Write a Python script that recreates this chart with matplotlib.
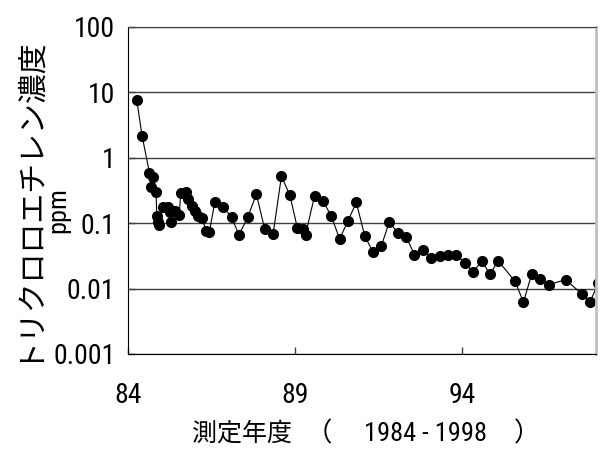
import matplotlib
matplotlib.use("Agg")
import matplotlib.pyplot as plt
from matplotlib import font_manager

names = {f.name for f in font_manager.fontManager.ttflist}
latin = 'Liberation Sans'
for cand in ['Liberation Sans Narrow', 'Arial Narrow', 'Roboto Condensed',
             'Pragati Narrow', 'PT Sans Narrow', 'Archivo Narrow']:
    if cand in names:
        latin = cand
        break

fam = [latin, 'Noto Sans CJK JP', 'DejaVu Sans']
jp = ['Noto Sans CJK JP', latin, 'DejaVu Sans']

years = [84.26, 84.42, 84.64, 84.74, 84.68, 84.84, 84.86, 84.90, 84.93, 85.05,
         85.19, 85.25, 85.30, 85.40, 85.53, 85.58, 85.75, 85.80, 85.90, 86.00,
         86.10, 86.22, 86.33, 86.43, 86.60, 86.84, 87.10, 87.32, 87.58, 87.84,
         88.09, 88.34, 88.59, 88.84, 89.07, 89.25, 89.31, 89.58, 89.83, 90.08,
         90.33, 90.58, 90.83, 91.08, 91.33, 91.58, 91.82, 92.07, 92.32, 92.57,
         92.81, 93.07, 93.32, 93.57, 93.82, 94.07, 94.33, 94.58, 94.83, 95.07,
         95.58, 95.83, 96.08, 96.33, 96.58, 97.09, 97.57, 97.82, 98.07]
conc = [7.66, 2.17, 0.59, 0.51, 0.35, 0.30, 0.129, 0.103, 0.094, 0.177,
        0.173, 0.146, 0.105, 0.154, 0.132, 0.286, 0.293, 0.237, 0.183, 0.151,
        0.126, 0.118, 0.076, 0.072, 0.211, 0.177, 0.122, 0.066, 0.122, 0.276,
        0.081, 0.068, 0.52, 0.267, 0.083, 0.081, 0.066, 0.26, 0.218, 0.129,
        0.057, 0.108, 0.206, 0.064, 0.0359, 0.045, 0.105, 0.070, 0.062, 0.0327,
        0.0389, 0.029, 0.0312, 0.033, 0.033, 0.0247, 0.0178, 0.0267, 0.0164, 0.0267,
        0.0128, 0.0062, 0.0168, 0.0141, 0.0114, 0.0137, 0.0083, 0.0062, 0.0122]

xticks = [84, 89, 94]
xtick_labels = ['84', '89', '94']
yticks = [0.001, 0.01, 0.1, 1, 10, 100]
ytick_labels = ['0.001', '0.01', '0.1', '1', '10', '100']

fig = plt.figure(figsize=(6.0, 4.49), dpi=100)
ax = fig.add_axes([128/600, 1-354/449, (596-128)/600, (354-26.6)/449])

ax.plot(years, conc, color='black', lw=0.8, marker='o', markersize=7,
        markerfacecolor='black', markeredgecolor='black', clip_on=True)
ax.set_yscale('log')
ax.set_ylim(0.001, 100)
ax.set_xlim(84, 98)
ax.set_yticks(yticks)
ax.set_yticklabels(ytick_labels)
ax.minorticks_off()
ax.set_xticks(xticks)
ax.set_xticklabels(xtick_labels)
ax.yaxis.grid(True, color='#404040', lw=1)
ax.set_axisbelow(True)

for lab in ax.get_xticklabels() + ax.get_yticklabels():
    lab.set_family(fam)
    lab.set_fontsize(20)
ax.tick_params(axis='both', direction='in', length=5, width=1, color='#404040')
ax.tick_params(axis='x', pad=20)
ax.tick_params(axis='y', pad=9)

ax.spines['top'].set_color('#404040')
ax.spines['right'].set_color('#c0c0c0')
ax.spines['right'].set_linewidth(2)
ax.spines['left'].set_color('black')
ax.spines['bottom'].set_color('black')

fig.text(25/600, 1-198/449, 'トリクロロエチレン濃度', rotation=90, ha='center', va='center',
         fontsize=21.5, family=jp)
fig.text(58/600, 1-210/449, 'ppm', rotation=90, ha='center', va='center',
         fontsize=19, family=fam)
fig.text(192/600, 1-434/449, '測定年度', ha='left', va='center',
         fontsize=18, family=jp)
fig.text(319/600, 1-434/449, '（', ha='center', va='center',
         fontsize=19, family=jp)
fig.text(426/600, 1-434/449, '1984 - 1998', ha='center', va='center',
         fontsize=19, family=fam)
fig.text(527/600, 1-434/449, '）', ha='center', va='center',
         fontsize=19, family=jp)

fig.savefig('out.png', dpi=100, facecolor='white')
